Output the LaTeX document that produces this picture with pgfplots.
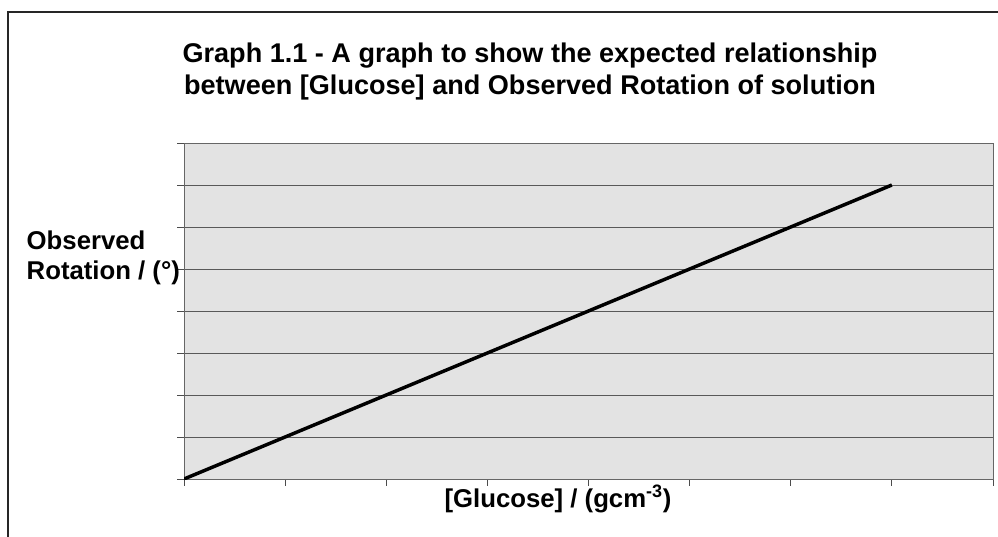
\documentclass[border=0pt]{standalone}
\usepackage{pgfplots}
\pgfplotsset{compat=1.18}
\usepackage{fontspec}
\setmainfont{Liberation Sans}
\begin{document}
\begin{tikzpicture}[x=0.75pt,y=0.75pt]
% pixel (px,py) of the reference -> (px-184, 479-py)
\begin{scope}
\clip (-184,-57) rectangle (814,479);
\fill[white] (-184,-57) rectangle (814,479);
\draw[line width=1.3pt, black!85] (-176,467) rectangle (830,-80);
\end{scope}
\begin{axis}[anchor=south west, width=606.75pt, height=252pt, scale only axis,
  xmin=0, xmax=8, ymin=0, ymax=8,
  xtick={0,...,8}, ytick={0,...,8}, xticklabels={}, yticklabels={},
  tick pos=left, tick align=outside, major tick length=5pt,
  ymajorgrids, grid style={color=black!65, line width=0.6pt},
  axis background/.style={fill=black!11},
  axis line style={black!60, line width=0.7pt},
  tick style={black!70, line width=0.6pt}]
\addplot[black, line width=2.6pt] coordinates {(0,0) (1,1) (2,2) (3,3) (4,4) (5,5) (6,6) (7,7)};
\end{axis}
\node[font=\bfseries\fontsize{20.3}{24}\selectfont, align=center] at (346,407) {Graph 1.1 - A graph to show the expected relationship\\between [Glucose] and Observed Rotation of solution};
\node[font=\bfseries\fontsize{19.3}{22.5}\selectfont, align=left, anchor=west] at (-162,221) {Observed\\Rotation / (°)};
\node[font=\bfseries\fontsize{19.3}{22.5}\selectfont] at (374,-20) {[Glucose] / (gcm\textsuperscript{-3})};
\pgfresetboundingbox
\useasboundingbox (-184,-57) rectangle (814,479);
\end{tikzpicture}
\end{document}
